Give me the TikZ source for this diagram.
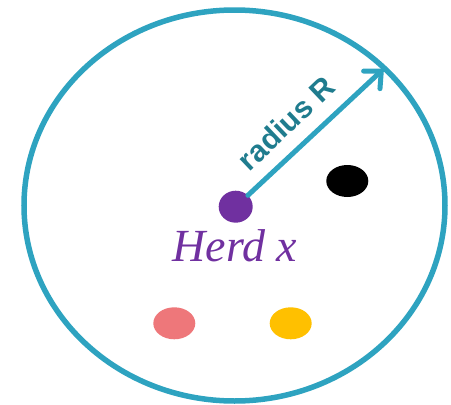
\documentclass[tikz,border=0pt]{standalone}
\usepackage{fontspec}
\setmainfont{Liberation Serif}
\newfontfamily\arialb{Liberation Sans}
\usetikzlibrary{arrows.meta}
\definecolor{ring}{HTML}{2EA3C0}
\definecolor{labteal}{HTML}{1F7C8E}
\definecolor{herd}{HTML}{7030A0}
\definecolor{pinkdot}{HTML}{EE777A}
\definecolor{golddot}{HTML}{FFC000}
\tikzset{
  dot/.style={ellipse, inner sep=0pt, minimum width=42pt, minimum height=32pt},
}
\usetikzlibrary{shapes.geometric}
\begin{document}
\begin{tikzpicture}[x=1pt,y=-1pt]
\useasboundingbox (0,0) rectangle (451,405);
\draw[ring, line width=5.5pt] (234.5,205.5) ellipse [x radius=210.5, y radius=195.5];
\node[dot, fill=herd, minimum width=34pt] (herd) at (235.7,206.7) {};
\node[dot, fill=black] (black) at (347.3,181) {};
\node[dot, fill=pinkdot] (pink) at (174.3,323.3) {};
\node[dot, fill=golddot] (gold) at (290.7,323.3) {};
\coordinate (rim) at (384,68.5);
\draw[ring, line width=5pt, line cap=round, -{Straight Barb[length=13pt,width=24pt,line cap=round]}] (herd.43) -- (rim);
\node[text=labteal, font=\arialb\bfseries\fontsize{30}{34}\selectfont, rotate=43.5, inner sep=0pt] (lab) at (286,123) {radius R};
\node[text=herd, font=\itshape\fontsize{46}{50}\selectfont, anchor=base, inner sep=0pt] (name) at (235,261.7) {Herd x};
\end{tikzpicture}
\end{document}
